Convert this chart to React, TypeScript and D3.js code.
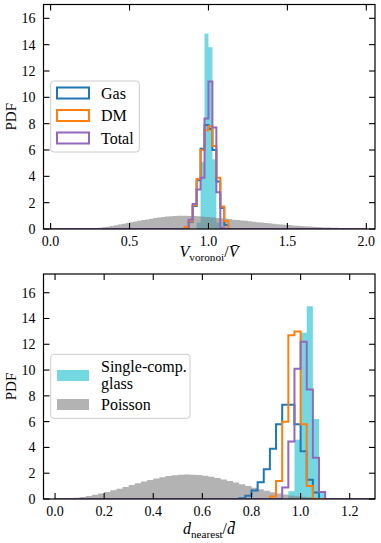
import React from "react";
import * as d3 from "d3";

const binWidth = 0.025;
const pdfTicks = [0, 2, 4, 6, 8, 10, 12, 14, 16];

// upper panel: Voronoi volumes, bins of 0.025 on [0, 2]
const voronoiRange = [0, 2];
const voronoiTicks = [0, 0.5, 1.0, 1.5, 2.0];
const gasVoronoiStart = 0.85;
const gasVoronoi = [0.1, 0.55, 1.75, 3.7, 6.1, 7.9, 7.6, 6.0, 3.6, 1.6, 0.3];
const dmVoronoiStart = 0.85;
const dmVoronoi = [0.15, 0.6, 1.8, 3.8, 6.0, 7.5, 7.8, 6.3, 3.9, 1.7, 0.6];
const totalVoronoiStart = 0.875;
const totalVoronoi = [0.7, 1.9, 3.0, 3.9, 8.4, 11.2, 7.7, 2.8, 0.1];
const glassVoronoiStart = 0.925;
const glassVoronoi = [0.5, 5.1, 14.85, 13.8, 5.3, 0.5];
const poissonVoronoiStart = 0.2;
const poissonVoronoi = [
  0.01, 0.02, 0.04, 0.07, 0.1, 0.14, 0.18, 0.23, 0.28, 0.34, 0.39, 0.45,
  0.51, 0.57, 0.62, 0.68, 0.73, 0.78, 0.83, 0.87, 0.91, 0.94, 0.97, 0.99,
  1.0, 1.01, 1.0, 0.99, 0.98, 0.96, 0.94, 0.92, 0.9, 0.87, 0.84, 0.81,
  0.78, 0.75, 0.71, 0.68, 0.65, 0.62, 0.58, 0.55, 0.52, 0.49, 0.46, 0.43,
  0.4, 0.37, 0.35, 0.32, 0.3, 0.27, 0.25, 0.23, 0.21, 0.19, 0.17, 0.15,
  0.14, 0.12, 0.11, 0.1, 0.09, 0.08, 0.07, 0.06, 0.05, 0.04, 0.035, 0.03,
];

// lower panel: nearest neighbour distances, bins of 0.025 on [0, 1.3]
const nearestRange = [0, 1.3];
const nearestTicks = [0, 0.2, 0.4, 0.6, 0.8, 1.0, 1.2];
const gasNearestStart = 0.75;
const gasNearest = [0.05, 0.25, 0.65, 1.3, 2.3, 3.9, 5.8, 7.3, 7.3, 5.8, 3.7, 1.5, 0.5];
const dmNearestStart = 0.875;
const dmNearest = [0.2, 1.4, 6.0, 12.7, 13.0, 5.8, 1.0];
const totalNearestStart = 0.925;
const totalNearest = [0.9, 4.45, 10.1, 12.2, 8.5, 3.2, 0.55];
const glassNearestStart = 0.95;
const glassNearest = [0.6, 4.6, 12.9, 14.95, 6.2, 0.6];
const poissonNearestStart = 0.025;
const poissonNearest = [
  0.02, 0.05, 0.1, 0.16, 0.24, 0.33, 0.43, 0.55, 0.67, 0.8, 0.94, 1.08,
  1.22, 1.35, 1.48, 1.59, 1.69, 1.78, 1.84, 1.88, 1.9, 1.89, 1.86, 1.8,
  1.73, 1.63, 1.52, 1.4, 1.27, 1.14, 1.01, 0.88, 0.75, 0.64, 0.53, 0.43,
  0.35, 0.28, 0.22, 0.17, 0.13, 0.09, 0.07, 0.05, 0.03, 0.02, 0.015, 0.01,
];

const BLUE = "#1f77b4";
const ORANGE = "#ff7f0e";
const PURPLE = "#9467bd";
const CYAN = "#17becf";
const GRAY = "#808080";
const FONT = "'Liberation Serif', 'Times New Roman', serif";

type Bin = { x0: number; x1: number; v: number };

// spread a list of bin heights over the full histogram range (zeros elsewhere)
function makeBins(range: number[], start: number, values: number[]): Bin[] {
  const n = Math.round((range[1] - range[0]) / binWidth);
  const offset = Math.round((start - range[0]) / binWidth);
  const bins: Bin[] = [];
  for (let i = 0; i < n; i++) {
    const j = i - offset;
    bins.push({
      x0: range[0] + i * binWidth,
      x1: range[0] + (i + 1) * binWidth,
      v: j >= 0 && j < values.length ? values[j] : 0,
    });
  }
  return bins;
}

function stepPath(bins: Bin[], x: any, y: any, close: boolean) {
  let d = `M${x(bins[0].x0)},${y(0)}`;
  bins.forEach((b) => {
    d += `L${x(b.x0)},${y(b.v)}L${x(b.x1)},${y(b.v)}`;
  });
  d += `L${x(bins[bins.length - 1].x1)},${y(0)}`;
  if (close) d += "Z";
  return d;
}

type PanelProps = {
  id: string;
  top: number;
  bottom: number;
  xDomain: number[];
  yMax: number;
  xTicks: number[];
  range: number[];
  glass: [number, number[]];
  poisson: [number, number[]];
  gas: [number, number[]];
  dm: [number, number[]];
  total: [number, number[]];
  xLabel: React.ReactNode;
  legend: React.ReactNode;
};

const LEFT = 43.5;
const RIGHT = 375;
const TICK = 6;

function Panel(p: PanelProps) {
  const x = d3.scaleLinear().domain(p.xDomain).range([LEFT, RIGHT]);
  const y = d3.scaleLinear().domain([0, p.yMax]).range([p.bottom, p.top]);
  const fmt = d3.format(".1f");
  const clip = `clip-${p.id}`;

  return (
    <g>
      <defs>
        <clipPath id={clip}>
          <rect x={LEFT} y={p.top} width={RIGHT - LEFT} height={p.bottom - p.top} />
        </clipPath>
      </defs>
      <g clipPath={`url(#${clip})`}>
        <path d={stepPath(makeBins(p.range, ...p.glass), x, y, true)} fill={CYAN} fillOpacity={0.6} />
        <path d={stepPath(makeBins(p.range, ...p.poisson), x, y, true)} fill={GRAY} fillOpacity={0.6} />
        <path d={stepPath(makeBins(p.range, ...p.gas), x, y, false)} fill="none" stroke={BLUE} strokeWidth={2} />
        <path d={stepPath(makeBins(p.range, ...p.dm), x, y, false)} fill="none" stroke={ORANGE} strokeWidth={2} />
        <path d={stepPath(makeBins(p.range, ...p.total), x, y, false)} fill="none" stroke={PURPLE} strokeWidth={2} />
      </g>

      {/* ticks point inward on all four sides */}
      {p.xTicks.map((t) => (
        <g key={`x${t}`}>
          <line x1={x(t)} x2={x(t)} y1={p.bottom} y2={p.bottom - TICK} stroke="#000" strokeWidth={1.1} />
          <line x1={x(t)} x2={x(t)} y1={p.top} y2={p.top + TICK} stroke="#000" strokeWidth={1.1} />
          <text x={x(t)} y={p.bottom + 16.5} textAnchor="middle" fontSize={14} fontFamily={FONT}>
            {fmt(t)}
          </text>
        </g>
      ))}
      {pdfTicks.map((t) => (
        <g key={`y${t}`}>
          <line x1={LEFT} x2={LEFT + TICK} y1={y(t)} y2={y(t)} stroke="#000" strokeWidth={1.1} />
          <line x1={RIGHT} x2={RIGHT - TICK} y1={y(t)} y2={y(t)} stroke="#000" strokeWidth={1.1} />
          <text x={35.5} y={y(t) + 5} textAnchor="end" fontSize={14} fontFamily={FONT}>
            {t}
          </text>
        </g>
      ))}
      <rect x={LEFT} y={p.top} width={RIGHT - LEFT} height={p.bottom - p.top} fill="none" stroke="#000" strokeWidth={1.2} />

      <text
        transform={`translate(16,${(p.top + p.bottom) / 2}) rotate(-90)`}
        textAnchor="middle"
        fontSize={15}
        fontFamily={FONT}
      >
        PDF
      </text>
      {p.xLabel}
      {p.legend}
    </g>
  );
}

function LegendBox({ x, y, w, h }: { x: number; y: number; w: number; h: number }) {
  return <rect x={x} y={y} width={w} height={h} rx={3} fill="#fff" fillOpacity={0.8} stroke="#cccccc" strokeWidth={1} />;
}

export default function App() {
  const topLegend = (
    <g fontFamily={FONT} fontSize={16}>
      <LegendBox x={50.7} y={81} w={88.6} h={71} />
      {[
        ["Gas", BLUE, 93],
        ["DM", ORANGE, 115.5],
        ["Total", PURPLE, 138],
      ].map(([label, color, cy]) => (
        <g key={label as string}>
          <rect x={57} y={(cy as number) - 5.5} width={32} height={11} fill="none" stroke={color as string} strokeWidth={2} />
          <text x={101} y={(cy as number) + 5.5}>{label}</text>
        </g>
      ))}
    </g>
  );

  const bottomLegend = (
    <g fontFamily={FONT} fontSize={16}>
      <LegendBox x={50.7} y={354.3} w={139.3} h={64} />
      <rect x={57} y={370} width={32} height={11} fill={CYAN} fillOpacity={0.6} />
      <text x={101} y={372}>Single-comp.</text>
      <text x={101} y={389}>glass</text>
      <rect x={57} y={399} width={32} height={11} fill={GRAY} fillOpacity={0.6} />
      <text x={101} y={410}>Poisson</text>
    </g>
  );

  const topLabel = (
    <text x={209} y={257} textAnchor="middle" fontSize={16} fontFamily={FONT}>
      <tspan fontStyle="italic">V</tspan>
      <tspan fontSize={11.2} dy={3.5}>voronoi</tspan>
      <tspan dy={-3.5}>/</tspan>
      <tspan fontStyle="italic">{"V\u0304"}</tspan>
    </text>
  );

  const bottomLabel = (
    <text x={209} y={534} textAnchor="middle" fontSize={16} fontFamily={FONT}>
      <tspan fontStyle="italic">d</tspan>
      <tspan fontSize={11.2} dy={3.5}>nearest</tspan>
      <tspan dy={-3.5}>/</tspan>
      <tspan fontStyle="italic">{"d\u0304"}</tspan>
    </text>
  );

  return (
    <svg width={381} height={543} style={{ position: "absolute", left: 0, top: 0, background: "#fff" }}>
      <Panel
        id="vor"
        top={4.5}
        bottom={229}
        xDomain={[-0.045, 2.055]}
        yMax={17.05}
        xTicks={voronoiTicks}
        range={voronoiRange}
        glass={[glassVoronoiStart, glassVoronoi]}
        poisson={[poissonVoronoiStart, poissonVoronoi]}
        gas={[gasVoronoiStart, gasVoronoi]}
        dm={[dmVoronoiStart, dmVoronoi]}
        total={[totalVoronoiStart, totalVoronoi]}
        xLabel={topLabel}
        legend={topLegend}
      />
      <Panel
        id="near"
        top={274}
        bottom={499}
        xDomain={[-0.047, 1.303]}
        yMax={17.45}
        xTicks={nearestTicks}
        range={nearestRange}
        glass={[glassNearestStart, glassNearest]}
        poisson={[poissonNearestStart, poissonNearest]}
        gas={[gasNearestStart, gasNearest]}
        dm={[dmNearestStart, dmNearest]}
        total={[totalNearestStart, totalNearest]}
        xLabel={bottomLabel}
        legend={bottomLegend}
      />
    </svg>
  );
}
